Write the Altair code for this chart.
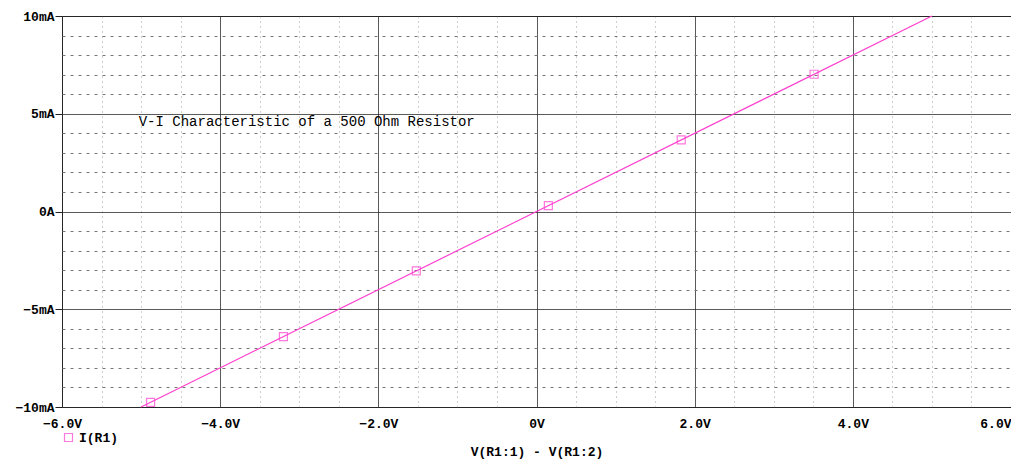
import altair as alt
import pandas as pd

# Data (volts, milliamps)
line_v = [-5.0, 5.0]
line_i = [-10.0, 10.0]
marker_v = [-4.88, -3.20, -1.52, 0.15, 1.83, 3.51]
marker_i = [-9.76, -6.40, -3.04, 0.30, 3.66, 7.02]
series_name = "I(R1)"
title_text = "V-I Characteristic of a 500 Ohm Resistor"
x_title = "V(R1:1) - V(R1:2)"

x_ticks = [-6 + 0.5 * k for k in range(25)]
y_ticks = [-10 + k for k in range(21)]

PINK = "#ff3fcf"
FONT = "Liberation Mono"

line_df = pd.DataFrame({"v": line_v, "i": line_i})
pts_df = pd.DataFrame({"v": marker_v, "i": marker_i, "s": [series_name] * len(marker_v)})
txt_df = pd.DataFrame({"v": [-5.03], "i": [4.58], "t": [title_text]})

xscale = alt.Scale(domain=[-6, 6], nice=False, zero=False)
yscale = alt.Scale(domain=[-10, 10], nice=False, zero=False)

x_axis = alt.Axis(
    values=x_ticks,
    tickCount=200,
    labelExpr="datum.value == 0 ? '0V' : (datum.value % 2 == 0 ? format(datum.value, '.1f') + 'V' : '')",
    labelOverlap=False,
    ticks=False,
    labelPadding=10,
    labelAlign={"condition": {"test": "datum.value == 6", "value": "right"}, "value": "center"},
    grid=True,
    gridColor={"condition": {"test": "datum.value % 2 == 0", "value": "#222222"}, "value": "#9a9a9a"},
    gridDash={"condition": {"test": "datum.value % 2 == 0", "value": [1, 0]}, "value": [1, 4]},
    domain=False,
    title=x_title,
    titleY=44,
    titleBaseline="middle",
)
y_axis = alt.Axis(
    values=y_ticks,
    tickCount=200,
    labelExpr="datum.value == 0 ? '0A' : (datum.value % 5 == 0 ? format(datum.value, 'd') + 'mA' : '')",
    labelOverlap=False,
    tickSize=7,
    tickColor="#222222",
    tickOpacity={"condition": {"test": "datum.value % 5 == 0", "value": 1}, "value": 0},
    labelPadding=1,
    grid=True,
    gridColor={"condition": {"test": "datum.value % 5 == 0", "value": "#222222"}, "value": "#777777"},
    gridDash={"condition": {"test": "datum.value % 5 == 0", "value": [1, 0]}, "value": [3, 5]},
    domain=False,
    title=None,
)

line = alt.Chart(line_df).mark_line(color=PINK, strokeWidth=1.2).encode(
    x=alt.X("v:Q", scale=xscale, axis=x_axis),
    y=alt.Y("i:Q", scale=yscale, axis=y_axis),
)

pts = alt.Chart(pts_df).mark_point(shape="square", filled=False, size=64, strokeWidth=1.2).encode(
    x=alt.X("v:Q", scale=xscale),
    y=alt.Y("i:Q", scale=yscale),
    color=alt.Color(
        "s:N",
        scale=alt.Scale(range=[PINK]),
        legend=alt.Legend(
            title=None,
            orient="none",
            legendX=0,
            legendY=415,
            symbolType="square",
            symbolSize=64,
            symbolStrokeWidth=1.2,
            labelFont=FONT,
            labelFontSize=13,
            labelFontWeight="bold",
            labelColor="#000000",
            padding=0,
        ),
    ),
)

txt = alt.Chart(txt_df).mark_text(
    align="left", baseline="middle", font=FONT, fontSize=14, color="#000000"
).encode(
    x=alt.X("v:Q", scale=xscale),
    y=alt.Y("i:Q", scale=yscale),
    text="t:N",
)

chart = alt.layer(line, pts, txt).properties(
    width=949,
    height=391,
    background="#ffffff",
    autosize=alt.AutoSizeParams(type="none"),
    padding={"left": 54, "top": 8, "right": 0, "bottom": 54},
).configure_view(
    stroke="#333333", strokeWidth=1
).configure_axis(
    labelFont=FONT,
    labelFontSize=13,
    labelFontWeight="bold",
    labelColor="#000000",
    titleFont=FONT,
    titleFontSize=13,
    titleFontWeight="bold",
    titleColor="#000000",
    gridWidth=1,
)

chart.save("out.html", embed_options={"renderer": "svg", "actions": False})
